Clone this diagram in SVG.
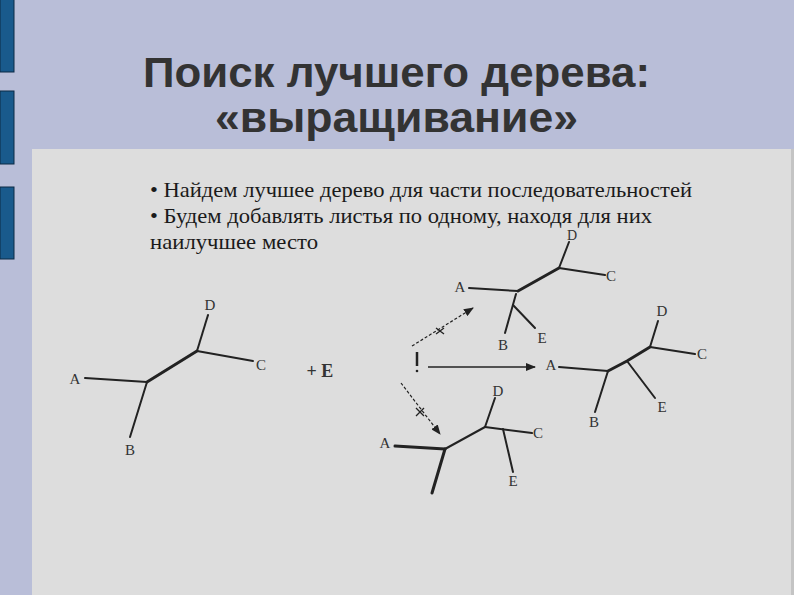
<svg xmlns="http://www.w3.org/2000/svg" width="794" height="595" viewBox="0 0 794 595">
<style>
.bar{fill:#195a8c;stroke:#0d2a44;stroke-width:1}
.title{font-family:"Liberation Sans",Arial,sans-serif;font-weight:bold;font-size:43px;fill:#333333}
.body{font-family:"Liberation Serif","Times New Roman",serif;font-size:21px;fill:#1a1a1a}
.lbl{font-family:"Liberation Serif","Times New Roman",serif;font-size:15px;fill:#333333;text-anchor:middle}
.br{stroke:#222;stroke-width:2;fill:none;stroke-linecap:round}
.in{stroke:#222;stroke-width:3;fill:none;stroke-linecap:round}
.ar{stroke:#222;stroke-width:1.3;fill:none}
.da{stroke:#222;stroke-width:1.2;fill:none;stroke-dasharray:3 2}
</style>
<defs>
<marker id="ah" markerWidth="10" markerHeight="8" refX="9" refY="4" orient="auto" markerUnits="userSpaceOnUse">
<path d="M0,0 L10,4 L0,8 z" fill="#222"/>
</marker>
</defs>
<rect width="794" height="595" fill="#b9bed8"/>
<rect class="bar" x="0" y="-1" width="14" height="73"/>
<rect class="bar" x="0" y="91" width="14" height="73"/>
<rect class="bar" x="0" y="187" width="14" height="72"/>
<rect x="32" y="149" width="762" height="446" fill="#dddddd"/>
<rect x="791" y="149" width="3" height="446" fill="#c4c4c4"/>
<g id="title">
<text class="title" x="143" y="87" textLength="507" lengthAdjust="spacingAndGlyphs">Поиск лучшего дерева:</text>
<text class="title" x="215" y="132" textLength="363" lengthAdjust="spacingAndGlyphs">«выращивание»</text>
</g>
<g id="bullets">
<text class="body" x="150" y="197" textLength="542" lengthAdjust="spacingAndGlyphs">• Найдем лучшее дерево для части последовательностей</text>
<text class="body" x="150" y="223" textLength="502" lengthAdjust="spacingAndGlyphs">• Будем добавлять листья по одному, находя для них</text>
<text class="body" x="150" y="249" textLength="168" lengthAdjust="spacingAndGlyphs">наилучшее место</text>
</g>
<g id="tree1">
<path class="br" d="M85,378 L147,382"/>
<path class="br" d="M147,382 L130,437"/>
<path class="in" d="M147,382 L197,351"/>
<path class="br" d="M197,351 L208,315"/>
<path class="br" d="M197,351 L253,361"/>
<text class="lbl" x="75" y="384">A</text>
<text class="lbl" x="130" y="455">B</text>
<text class="lbl" x="210" y="310">D</text>
<text class="lbl" x="261" y="370">C</text>
</g>
<g id="plusE">
<text class="lbl" x="320" y="377" style="font-size:18px;font-weight:bold">+ E</text>
</g>
<g id="tree2">
<path class="br" d="M469,288 L518,291"/>
<path class="in" d="M518,291 L559,268"/>
<path class="br" d="M559,268 L569,242"/>
<path class="br" d="M559,268 L605,275"/>
<path class="br" d="M516,294 L505,333"/>
<path class="br" d="M513,305 L535,328"/>
<text class="lbl" x="460" y="292">A</text>
<text class="lbl" x="572" y="240" style="font-size:14px">D</text>
<text class="lbl" x="611" y="281">C</text>
<text class="lbl" x="503" y="350">B</text>
<text class="lbl" x="542" y="343">E</text>
</g>
<g id="tree3">
<path class="br" d="M559,367 L608,371"/>
<path class="br" d="M608,371 L595,412"/>
<path class="in" d="M608,371 L627,361 L650,347"/>
<path class="br" d="M627,361 L655,398"/>
<path class="br" d="M650,347 L658,321"/>
<path class="br" d="M650,347 L695,354"/>
<text class="lbl" x="551" y="370">A</text>
<text class="lbl" x="594" y="427">B</text>
<text class="lbl" x="662" y="316">D</text>
<text class="lbl" x="702" y="359">C</text>
<text class="lbl" x="662" y="412">E</text>
</g>
<g id="tree4">
<path class="in" d="M395,446 L445,449"/>
<path class="in" d="M445,449 L432,493"/>
<path class="br" d="M445,449 L485,427"/>
<path class="br" d="M485,427 L495,398"/>
<path class="br" d="M485,427 L532,433"/>
<path class="br" d="M503,429 L513,472"/>
<text class="lbl" x="385" y="448">A</text>
<text class="lbl" x="498" y="396">D</text>
<text class="lbl" x="538" y="438">C</text>
<text class="lbl" x="513" y="486">E</text>
</g>
<g id="connectors">
<path class="da" d="M412,346 L473,308" marker-end="url(#ah)"/>
<path class="ar" d="M436,328 L444,334 M436,334 L444,328"/>
<path class="da" d="M401,383 L440,434" marker-end="url(#ah)"/>
<path class="ar" d="M416,408 L424,416 M416,416 L424,408"/>
<path class="ar" d="M428,367 L535,367" marker-end="url(#ah)"/>
<path d="M417,352 L417,366" stroke="#222" stroke-width="2.5"/>
<circle cx="417" cy="371" r="1.3" fill="#222"/>
</g>
</svg>
